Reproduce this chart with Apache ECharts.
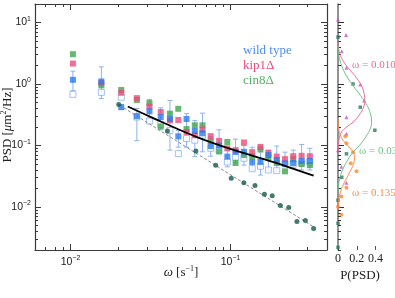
<!DOCTYPE html>
<html><head><meta charset="utf-8">
<script src="https://cdn.jsdelivr.net/npm/echarts@6/dist/echarts.min.js"></script>
<style>html,body{margin:0;padding:0;background:#fff}#c{width:395px;height:298px}</style>
</head><body><div id="c"></div>
<script>
// ---- data (omega in s^-1, PSD in um^2/Hz) ----
const omega = [0.01035,0.01558,0.02074,0.02596,0.03112,0.0366,0.04179,0.04713,0.05307,0.05975,0.06673,0.0751,0.08472,0.09539,0.1074,0.1211,0.1364,0.1536,0.1722,0.1942,0.2187,0.2461,0.2776,0.3126];
const wildType = [1.17,1.10,0.42,0.30,0.36,0.29,0.27,0.141,0.27,0.172,0.158,0.098,0.10,0.066,0.079,0.079,0.054,0.054,0.07,0.058,0.051,0.052,0.056,0.056];
const wildTypeOpen = [0.68,0.73,0.61,0.29,0.25,0.22,0.176,0.074,0.13,0.122,0.147,0.09,0.084,0.054,0.065,0.062,0.042,0.046,0.04,0.039,0.051,0.05,0.052,0.054];
const errLow = [0.78,0.58,0.385,0.12,0.28,0.18,0.084,0.094,0.094,0.066,0.079,0.067,0.078,0.045,0.052,0.048,0.04,0.033,0.039,0.038,0.045,0.043,0.04,0.04];
const errHigh = [1.62,1.90,0.46,0.40,0.56,0.41,0.54,0.176,0.33,0.256,0.336,0.14,0.18,0.084,0.127,0.10,0.094,0.098,0.084,0.098,0.078,0.084,0.104,0.09];
const kip1 = [2.15,1.04,0.72,0.59,0.43,0.35,0.256,0.26,0.166,0.147,0.183,0.142,0.119,0.09,0.084,0.112,0.078,0.095,0.076,0.066,0.06,0.067,0.068,0.067];
const cin8 = [3.05,0.95,0.80,0.55,0.49,0.205,0.33,0.395,0.185,0.213,0.213,0.12,0.08,0.114,0.052,0.07,0.067,0.086,0.064,0.052,0.038,0.06,0.05,0.048];
const tealOmega = [0.0200,0.0403,0.0607,0.0807,0.1009,0.121,0.142,0.1626,0.182,0.2045,0.2307,0.2596,0.293,0.330];
const tealPSD = [0.464,0.172,0.0815,0.0478,0.0294,0.0249,0.0223,0.0162,0.0152,0.0106,0.00986,0.00583,0.00606,0.00447];
const fitOmega = [0.0228,0.0321,0.0611,0.1008,0.183,0.330];
const fitPSD = [0.430,0.286,0.138,0.0871,0.0543,0.0323];
const dashOmega = [0.0215,0.33];
const dashPSD = [0.41,0.00476];
// side panel: probability distributions P(PSD)
const triP = [0,0.086,0.04,0.09,0.237,0.278,0.09,0.09,0,0.036,0.09];
const triPSD = [11.2,6.28,3.40,1.83,0.98,0.538,0.289,0.156,0.084,0.0452,0.0249];
const sqP = [0,0.16,0.237,0.392,0.09,0.04,0,0,0];
const sqPSD = [5.79,1.0,0.42,0.177,0.0732,0.0305,0.0129,0.00544,0.00221];
const dotP = [0.078,0.09,0.16,0.135,0.197,0.09,0.036,0.0,0.036];
const dotPSD = [0.141,0.109,0.078,0.0513,0.0382,0.0205,0.0148,0.0101,0.0075];
const curve010P = [0,0.007,0.036,0.083,0.144,0.18,0.25,0.28,0.285,0.275,0.243,0.18,0.115,0.072,0.03,0.01,0.003];
const curve010PSD = [4.99,3.71,2.69,2.05,1.58,1.36,0.94,0.67,0.538,0.43,0.344,0.256,0.212,0.19,0.158,0.122,0.084];
const curve03P = [0,0.01,0.04,0.09,0.16,0.24,0.31,0.35,0.357,0.345,0.3,0.23,0.16,0.09,0.04,0.01,0];
const curve03PSD = [4.15,2.86,1.97,1.36,0.94,0.648,0.447,0.308,0.238,0.19,0.141,0.101,0.078,0.0538,0.0372,0.0256,0.0177];
const curve135P = [0,0.01,0.04,0.1,0.155,0.175,0.165,0.12,0.07,0.03,0.008,0];
const curve135PSD = [0.276,0.177,0.131,0.101,0.081,0.0646,0.0499,0.0357,0.0256,0.0183,0.0131,0.00906];
// ticks
const xRange = [0.006, 0.4];
const yRange = [0.002, 20];
const xMajor = [0.01, 0.1];
const xMinor = [0.006,0.007,0.008,0.009,0.02,0.03,0.04,0.05,0.06,0.07,0.08,0.09,0.2,0.3,0.4];
const yMajor = [0.01, 0.1, 1, 10];
const yMinor = [0.002,0.003,0.004,0.005,0.006,0.007,0.008,0.009,0.02,0.03,0.04,0.05,0.06,0.07,0.08,0.09,0.2,0.3,0.4,0.5,0.6,0.7,0.8,0.9,2,3,4,5,6,7,8,9,20];
const pTicks = [0, 0.2, 0.4];
const pRange = [0, 0.5];

const L = Math.log10;
const SERIF = '"Liberation Serif","DejaVu Serif",serif';
const SANS = '"Liberation Sans",Arial,sans-serif';
const FRAME = '#3a3a3a';
const BLUE = '#2a7bf0', PINK = '#ee4a7a', GREEN = '#3fa64f', OPEN = '#8fb2f0', TEAL = '#17594c';

function supLabel(v) {
  const e = Math.round(v);
  return '{b|10}{s|' + String(e).replace('-', '\u2212') + '}';
}
const rich = { b: { fontSize: 10.5, fontFamily: SANS, color: '#222' }, s: { fontSize: 7, fontFamily: SANS, color: '#222', padding: [0, 0, 7, 0] } };

function axis(kind, grid, pos, range, ticks, len, opts) {
  opts = opts || {};
  const a = {
    type: 'value', gridIndex: grid, position: pos,
    min: range[0], max: range[1],
    splitLine: { show: false },
    axisLine: { show: !!opts.line, onZero: false, lineStyle: { color: opts.lineColor || FRAME, width: opts.lineWidth || 1.2 } },
    axisTick: { show: true, inside: true, length: len, customValues: ticks, lineStyle: { color: opts.tickColor || FRAME, width: 1 } },
    axisLabel: { show: !!opts.labels }
  };
  if (opts.labels) {
    a.axisLabel = Object.assign({ show: true, customValues: opts.labelValues || ticks }, opts.labels);
  }
  return a;
}
const lx = v => L(v);
const xr = xRange.map(lx), yr = yRange.map(lx);

const xAxis = [
  axis('x', 0, 'bottom', xr, xMajor.map(lx), 6, { line: true, labels: { formatter: supLabel, rich: rich, margin: 5 } }),
  axis('x', 0, 'bottom', xr, xMinor.map(lx), 3, {}),
  axis('x', 0, 'top', xr, xMajor.map(lx), 6, { line: true }),
  axis('x', 0, 'top', xr, xMinor.map(lx), 3, {}),
  axis('x', 1, 'bottom', pRange, pTicks, 4, { tickColor: '#555', labels: { fontFamily: SERIF, fontSize: 12, color: '#222', margin: 3, formatter: v => String(v) } })
];
const yAxis = [
  axis('y', 0, 'left', yr, yMajor.map(lx), 6, { line: true, labels: { formatter: supLabel, rich: rich, margin: 4 } }),
  axis('y', 0, 'left', yr, yMinor.map(lx), 3, {}),
  axis('y', 0, 'right', yr, yMajor.map(lx), 6, { line: true }),
  axis('y', 0, 'right', yr, yMinor.map(lx), 3, {}),
  axis('y', 1, 'left', yr, yMajor.map(lx), 6, { line: true, lineColor: '#777', lineWidth: 1.6, tickColor: '#333' }),
  axis('y', 1, 'left', yr, yMinor.map(lx), 3, { tickColor: '#333' })
];

const pts = (xs, ys) => xs.map((x, i) => [L(x), L(ys[i])]);
const sidePts = (ps, ys) => ps.map((p, i) => [p, L(ys[i])]);

const series = [
  {
    type: 'custom', name: 'err', xAxisIndex: 0, yAxisIndex: 0, z: 1, silent: true,
    data: omega.map((w, i) => [L(w), L(errLow[i]), L(errHigh[i])]),
    renderItem(params, api) {
      const x = api.value(0);
      const p1 = api.coord([x, api.value(1)]), p2 = api.coord([x, api.value(2)]);
      const c = 2.5, st = { stroke: OPEN, lineWidth: 1 };
      return { type: 'group', children: [
        { type: 'line', shape: { x1: p1[0], y1: p1[1], x2: p2[0], y2: p2[1] }, style: st },
        { type: 'line', shape: { x1: p1[0] - c, y1: p1[1], x2: p1[0] + c, y2: p1[1] }, style: st },
        { type: 'line', shape: { x1: p2[0] - c, y1: p2[1], x2: p2[0] + c, y2: p2[1] }, style: st }
      ] };
    }
  },
  { type: 'scatter', name: 'wild type (alt)', xAxisIndex: 0, yAxisIndex: 0, z: 2, symbol: 'rect', symbolSize: 6,
    itemStyle: { color: '#fff', borderColor: OPEN, borderWidth: 1 }, data: pts(omega, wildTypeOpen) },
  { type: 'line', name: 'dash', xAxisIndex: 0, yAxisIndex: 0, z: 3, symbol: 'none', lineStyle: { color: '#888', width: 1, type: [3, 2] }, data: pts(dashOmega, dashPSD) },
  { type: 'scatter', name: 'cin8\u0394', xAxisIndex: 0, yAxisIndex: 0, z: 4, symbol: 'rect', symbolSize: 6, itemStyle: { color: GREEN }, data: pts(omega, cin8) },
  { type: 'scatter', name: 'kip1\u0394', xAxisIndex: 0, yAxisIndex: 0, z: 5, symbol: 'rect', symbolSize: 6, itemStyle: { color: PINK }, data: pts(omega, kip1) },
  { type: 'scatter', name: 'wild type', xAxisIndex: 0, yAxisIndex: 0, z: 6, symbol: 'rect', symbolSize: 6, itemStyle: { color: BLUE }, data: pts(omega, wildType) },
  { type: 'line', name: 'fit', xAxisIndex: 0, yAxisIndex: 0, z: 7, symbol: 'none', smooth: 0.3, lineStyle: { color: '#000', width: 1.8 }, data: pts(fitOmega, fitPSD) },
  { type: 'scatter', name: 'teal', xAxisIndex: 0, yAxisIndex: 0, z: 8, symbol: 'circle', symbolSize: 5, itemStyle: { color: TEAL }, data: pts(tealOmega, tealPSD) },
  // side panel
  { type: 'line', xAxisIndex: 4, yAxisIndex: 4, symbol: 'none', smooth: 0.4, lineStyle: { color: '#f06a95', width: 1 }, data: sidePts(curve010P, curve010PSD) },
  { type: 'line', xAxisIndex: 4, yAxisIndex: 4, symbol: 'none', smooth: 0.4, lineStyle: { color: '#6cc486', width: 1 }, data: sidePts(curve03P, curve03PSD) },
  { type: 'line', xAxisIndex: 4, yAxisIndex: 4, symbol: 'none', smooth: 0.4, lineStyle: { color: '#ff8a4c', width: 1 }, data: sidePts(curve135P, curve135PSD) },
  { type: 'scatter', xAxisIndex: 4, yAxisIndex: 4, symbol: 'triangle', symbolSize: 4, itemStyle: { color: '#c84fd0' }, data: sidePts(triP, triPSD) },
  { type: 'scatter', xAxisIndex: 4, yAxisIndex: 4, symbol: 'rect', symbolSize: 3.5, itemStyle: { color: '#2b7a5e' }, data: sidePts(sqP, sqPSD) },
  { type: 'scatter', xAxisIndex: 4, yAxisIndex: 4, symbol: 'circle', symbolSize: 4, itemStyle: { color: '#ff8a1f' }, data: sidePts(dotP, dotPSD) }
];

const chart = echarts.init(document.getElementById('c'), null, { renderer: 'canvas' });
chart.setOption({
  animation: false,
  backgroundColor: '#fff',
  grid: [
    { left: 35, top: 4, width: 292, height: 246 },
    { left: 338, top: 4, width: 47, height: 246 }
  ],
  xAxis, yAxis, series,
  legend: {
    orient: 'vertical', left: 233, top: 39, itemGap: 2, itemWidth: 0, itemHeight: 0, icon: 'rect', selectedMode: false,
    textStyle: { fontFamily: SERIF, fontSize: 13 },
    data: [
      { name: 'wild type', textStyle: { color: '#4d8cf0' } },
      { name: 'kip1\u0394', textStyle: { color: '#ee4a7a' } },
      { name: 'cin8\u0394', textStyle: { color: '#55b266' } }
    ]
  },
  graphic: [
    { type: 'text', x: 8, y: 125, rotation: Math.PI / 2, style: { text: 'PSD [{i|\u03bc}m{s|2}/Hz]', fontFamily: SERIF, fontSize: 13, fill: '#222', align: 'center', verticalAlign: 'middle',
      rich: { i: { fontFamily: SERIF, fontStyle: 'italic', fontSize: 13 }, s: { fontSize: 8, padding: [0, 0, 8, 0], fontFamily: SERIF } } } },
    { type: 'text', x: 181, y: 273, style: { text: '{i|\u03c9} [s{s|\u22121}]', fontFamily: SERIF, fontSize: 13, fill: '#222', align: 'center', verticalAlign: 'middle',
      rich: { i: { fontFamily: SERIF, fontStyle: 'italic', fontSize: 13 }, s: { fontSize: 8, padding: [0, 0, 8, 0], fontFamily: SERIF } } } },
    { type: 'text', x: 360, y: 276, style: { text: 'P(PSD)', fontFamily: SERIF, fontSize: 13, fill: '#222', align: 'center', verticalAlign: 'middle' } },
    { type: 'text', x: 352, y: 65, style: { text: '\u03c9 = 0.010', fontFamily: SERIF, fontSize: 11, fill: '#f06a95', verticalAlign: 'middle' } },
    { type: 'text', x: 359, y: 151, style: { text: '\u03c9 = 0.031', fontFamily: SERIF, fontSize: 11, fill: '#6cc486', verticalAlign: 'middle' } },
    { type: 'text', x: 352, y: 193, style: { text: '\u03c9 = 0.135', fontFamily: SERIF, fontSize: 11, fill: '#ff8a4c', verticalAlign: 'middle' } }
  ]
});
</script></body></html>
